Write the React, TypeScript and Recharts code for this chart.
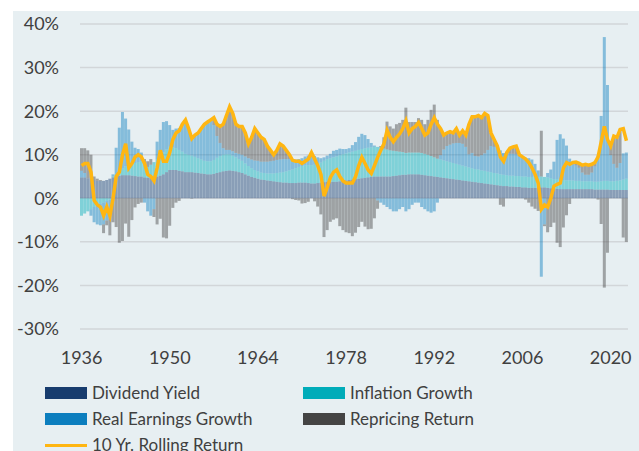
import React from 'react';
import { ComposedChart, Bar, Line, XAxis, YAxis, CartesianGrid } from 'recharts';

const years = [
  1936, 1937, 1938, 1939, 1940, 1941, 1942, 1943, 1944, 1945,
  1946, 1947, 1948, 1949, 1950, 1951, 1952, 1953, 1954, 1955,
  1956, 1957, 1958, 1959, 1960, 1961, 1962, 1963, 1964, 1965,
  1966, 1967, 1968, 1969, 1970, 1971, 1972, 1973, 1974, 1975,
  1976, 1977, 1978, 1979, 1980, 1981, 1982, 1983, 1984, 1985,
  1986, 1987, 1988, 1989, 1990, 1991, 1992, 1993, 1994, 1995,
  1996, 1997, 1998, 1999, 2000, 2001, 2002, 2003, 2004, 2005,
  2006, 2007, 2008, 2009, 2010, 2011, 2012, 2013, 2014, 2015,
  2016, 2017, 2018, 2019, 2020, 2021, 2022,
];
const halves = ['H1', 'H2'];
const tickYears = ['1936', '1950', '1964', '1978', '1992', '2006', '2020'];
const yTicks = [-30, -20, -10, 0, 10, 20, 30, 40];

const dividendYield = [
  4.8, 4.8, 4.6, 4.5, 4.2, 4, 4, 4, 4.2, 4.5,
  4.8, 5, 5.2, 5.3, 5.3, 5.3, 5.2, 5.1, 5, 5,
  4.8, 4.7, 4.7, 4.8, 5, 5.2, 5.5, 6, 6.5, 6.5,
  6.5, 6.3, 6.2, 6, 6, 6, 5.9, 5.8, 5.7, 5.6,
  5.5, 5.5, 5.6, 5.8, 6, 6.2, 6.3, 6.4, 6.3, 6.2,
  6, 5.8, 5.5, 5.2, 4.9, 4.7, 4.5, 4.3, 4.2, 4.1,
  4, 3.9, 3.8, 3.7, 3.6, 3.6, 3.5, 3.5, 3.5, 3.6,
  3.6, 3.6, 3.5, 3.4, 3.4, 3.5, 3.6, 3.7, 3.8, 3.8,
  3.8, 3.8, 3.9, 4, 4.1, 4.2, 4.3, 4.4, 4.5, 4.6,
  4.7, 4.8, 4.9, 5, 5, 5, 5, 5, 5, 5.1,
  5.2, 5.3, 5.4, 5.4, 5.5, 5.5, 5.5, 5.5, 5.4, 5.3,
  5.2, 5.1, 5, 4.9, 4.8, 4.7, 4.6, 4.5, 4.4, 4.3,
  4.2, 4.1, 4, 3.9, 3.8, 3.7, 3.6, 3.5, 3.4, 3.3,
  3.2, 3.1, 3, 2.9, 2.8, 2.8, 2.7, 2.7, 2.6, 2.6,
  2.5, 2.5, 2.4, 2.4, 2.4, 2.4, 2.5, 2.5, 2.4, 2.3,
  2.2, 2.2, 2.1, 2.1, 2.1, 2.1, 2.1, 2.1, 2.1, 2.1,
  2.1, 2.1, 2.1, 2, 2, 2, 2, 2, 1.9, 1.9,
  1.9, 1.9, 1.9, 1.9,
];

const inflationGrowth = [
  -4, -3.5, -3, -2.5, -2, -1.5, -1.2, -1, -0.6, -0.3,
  0.2, 0.6, 1, 1.5, 2, 2.5, 2.8, 3, 3.3, 3.5,
  3, 2.5, 3, 3.5, 4, 4.5, 5, 5.2, 5.3, 5.2,
  5, 4.8, 4.5, 4.2, 4, 3.8, 3.6, 3.4, 3.2, 3,
  3, 3, 3.2, 3.5, 3.7, 3.8, 3.8, 3.7, 3.5, 3.2,
  3, 2.8, 2.5, 2.2, 2, 1.8, 1.7, 1.6, 1.6, 1.6,
  1.7, 1.8, 2, 2.2, 2.4, 2.6, 2.9, 3.1, 3.4, 3.6,
  3.8, 4, 4.1, 4.2, 4.3, 4.4, 4.6, 4.9, 5.2, 5.4,
  5.6, 5.8, 6, 6.1, 6.2, 6.3, 6.4, 6.5, 6.6, 6.7,
  6.8, 6.8, 6.8, 6.8, 6.8, 6.6, 6.4, 6.2, 6, 5.8,
  5.6, 5.4, 5.2, 5, 5, 5, 5, 5, 5, 4.9,
  4.8, 4.6, 4.4, 4.2, 4.1, 4, 3.9, 3.8, 3.7, 3.6,
  3.5, 3.4, 3.3, 3.2, 3.1, 3, 3, 2.9, 2.9, 2.8,
  2.8, 2.7, 2.7, 2.6, 2.6, 2.5, 2.5, 2.5, 2.5, 2.5,
  2.5, 2.5, 2.5, 2.5, 2.5, 2.5, 2.5, 2.4, 2.4, 2.3,
  2.2, 2.2, 2.1, 2.1, 2, 2, 2, 1.9, 1.9, 1.8,
  1.8, 1.8, 1.8, 1.8, 1.8, 1.9, 2, 2, 2, 2,
  2.1, 2.2, 2.4, 2.6,
];

const realEarningsGrowth = [
  1.5, 1, 0, -1.5, -3.5, -4.5, -5, -5, -4.5, -3.5,
  0.5, 6, 10, 13, 11, 8, 5, 3.5, 3, 2,
  -1, -3, -4, -2.5, 4, 6, 7, 6.5, 5, 4,
  4.5, 5, 6, 7, 6, 4, 5, 5.8, 7.1, 8.4,
  9, 9.5, 8, 5, 3, 1.5, 1, 1, 1, 1,
  1.2, 1.4, 1.6, 1.8, 2, 2.2, 2.4, 2.5, 2.6, 2.7,
  2.8, 2.9, 3, 3, 3, 2.8, 2.6, 2.3, 2, 1.8,
  1.8, 2, 2.2, 2.4, 2, 1.5, 1, 0.8, 0.8, 1,
  1.5, 1.5, 1.5, 1.2, 1, 1, 1.5, 2, 3, 3.5,
  3, 2, 1, 0.3, -0.5, -1, -1.5, -2, -2.5, -3,
  -3, -2.5, -2, -3, -2.5, -1.5, -1, -1, -2, -2.5,
  -3, -3.3, -3, -1, 1, 2.5, 3.5, 4, 4.5, 4.8,
  5, 5, 4.5, 3, 3.5, 3, 3, 3.5, 4, 5,
  6, 6, 6, 5.5, 5, 5, 5, 5, 5, 4.5,
  4.5, 4.3, 4.3, 4, 3, 1.5, -18, -6, 1, 2,
  4, 9, 10.5, 9.5, 8, 5, 3.8, 3.5, 3, 2,
  1.5, 1.5, 2, 3.5, 6, 15, 33, 22, 6, 4,
  3, 4, 6, 6,
];

const repricingReturn = [
  5.2, 5.7, 6.4, 5.5, 0.8, 0.5, 0.2, -2, -1.1, -4.7,
  -5.5, -6.6, -10.2, -9.8, -5.8, -8.8, -5, -2.1, -1.3, -1,
  1.2, 1.3, 1.3, -1.8, -6, -4.7, -9, -9.2, -6.3, -2.2,
  -1, -0.6, 0.3, 0.8, 0, -0.1, 0, 0, 0, 0,
  0, 0, 1.7, 2.7, 3.8, 5.5, 7.9, 9.9, 8.7, 6.6,
  6.3, 6.5, 5.4, 3.3, 5.1, 7.3, 6.4, 5.6, 5.1, 3.6,
  2.5, 1.4, 2.2, 3.6, 3, 2, 1, -0.2, -0.4, -0.5,
  -1.2, -1.1, -0.8, 0.5, -0.7, -1.9, -3.7, -8.9, -7.3, -5.4,
  -4.9, -4.6, -6.4, -7.3, -7.8, -8, -8.7, -7.9, -6.6, -5.4,
  -6.5, -7.1, -7, -4.6, -1.9, 0.4, 2.6, 6.4, 5.5, 5.1,
  6.2, 6.6, 7.4, 10.4, 7, 7, 7, 7.9, 7.6, 6.8,
  8, 10.6, 12.1, 8.9, 6.1, 3.3, 3, 3, 2.4, 3.3,
  1.8, 3, 2.7, 6.9, 8.3, 9, 9.4, 8.6, 9.2, 7.9,
  3, 1.7, 0.3, -1.5, -1.9, 0.2, 1.3, 1.6, 1.9, 0.4,
  0, -0.3, -1, -1.9, -2.4, -2.9, 10.5, -0.4, -7.8, -6.6,
  -5.6, -10.2, -11.2, -6.7, -3.9, -1.3, 0.3, 0.8, 1, 1.7,
  2.4, 2.2, 1.9, 0.9, -0.3, -5.9, -20.5, -12.5, 2.1, 6.4,
  7, 7.7, -9, -10,
];

const rollingReturn = [
  7.5, 8, 8, 6, -0.5, -1.5, -2, -4, -2, -4,
  0, 5, 6, 10, 12.5, 7, 8, 9.5, 10, 9.5,
  8, 5.5, 5, 4, 7, 11, 8.5, 8.5, 10.5, 13.5,
  15, 15.5, 17, 18, 16, 13.7, 14.5, 15, 16, 17,
  17.5, 18, 18.5, 17, 16.5, 17, 19, 21, 19.5, 17,
  16.5, 16.5, 15, 12.5, 14, 16, 15, 14, 13.5, 12,
  11, 10, 11, 12.5, 12, 11, 10, 8.7, 8.5, 8.5,
  8, 8.5, 9, 10.5, 9, 7.5, 5.5, 0.5, 2.5, 4.8,
  6, 6.5, 5, 4, 3.5, 3.5, 3.5, 5, 7.5, 9.4,
  8, 6.5, 5.7, 7.5, 9.4, 11, 12.5, 15.6, 14, 13,
  14, 14.8, 16, 17.8, 15, 16, 16.5, 17.4, 16, 14.5,
  15, 17, 18.5, 17, 16, 14.5, 15, 15.3, 15, 16,
  14.5, 15.5, 14.5, 17, 18.7, 18.7, 19, 18.5, 19.5, 19,
  15, 13.5, 12, 9.5, 8.5, 10.5, 11.5, 11.8, 12, 10,
  9.5, 9, 8.2, 7, 5.5, 3.5, -2.5, -1.5, -2, 0,
  2.8, 3.2, 3.5, 7, 8.2, 7.8, 8.2, 8.3, 8, 7.6,
  7.8, 7.6, 7.8, 8.2, 9.5, 13, 16.5, 13.5, 12, 14.3,
  14, 15.8, 16, 13.2,
];

const data = years.flatMap((y, yi) =>
  halves.map((h, hi) => {
    const i = yi * 2 + hi;
    return {
      period: `${y}${h}`,
      div: dividendYield[i],
      infl: inflationGrowth[i],
      earn: realEarningsGrowth[i],
      rep: repricingReturn[i],
      roll: rollingReturn[i],
    };
  })
);

const FONT = 'Lato, "Open Sans", sans-serif';
const TEXT = '#404040';

const legendItems = [
  { label: 'Dividend Yield', color: '#173C6E', left: 45, top: 383, kind: 'box' },
  { label: 'Inflation Growth', color: '#00ACB9', left: 303, top: 383, kind: 'box' },
  { label: 'Real Earnings Growth', color: '#0C7EBE', left: 45, top: 409, kind: 'box' },
  { label: 'Repricing Return', color: '#444444', left: 303, top: 409, kind: 'box' },
  { label: '10 Yr. Rolling Return', color: '#FFB612', left: 45, top: 435, kind: 'line' },
];

export default function App() {
  return (
    <div style={{ position: 'absolute', left: 0, top: 0, width: 639, height: 451, overflow: 'hidden', background: '#ffffff', fontFamily: FONT }}>
      <div style={{ position: 'absolute', left: 13, top: 11, width: 626, height: 440, background: '#E7EFF2' }} />
      <div style={{ position: 'absolute', left: 0, top: 0 }}>
        <ComposedChart
          width={639}
          height={451}
          data={data}
          stackOffset="sign"
          barCategoryGap={0}
          barGap={0}
          margin={{ top: 24, right: 11, bottom: 92, left: 0 }}
        >
          <CartesianGrid vertical={false} stroke="#D2D6D9" strokeWidth={1.5} />
          <XAxis
            dataKey="period"
            interval={27}
            axisLine={false}
            tickLine={false}
            tickSize={0}
            tickMargin={22}
            height={30}
            tick={{ fill: TEXT, fontSize: 18, fontFamily: FONT }}
            tickFormatter={(v: string) => (tickYears.includes(v.slice(0, 4)) && v.endsWith('H1') ? v.slice(0, 4) : '')}
          />
          <YAxis
            domain={[-30, 40]}
            ticks={yTicks}
            width={80}
            axisLine={false}
            tickLine={false}
            tickSize={0}
            tickMargin={21}
            tick={{ fill: TEXT, fontSize: 18, fontFamily: FONT }}
            tickFormatter={(v: number) => `${v}%`}
          />
          <Bar dataKey="div" stackId="s" fill="#173C6E" fillOpacity={0.45} isAnimationActive={false} />
          <Bar dataKey="infl" stackId="s" fill="#00ACB9" fillOpacity={0.45} isAnimationActive={false} />
          <Bar dataKey="earn" stackId="s" fill="#0C7EBE" fillOpacity={0.45} isAnimationActive={false} />
          <Bar dataKey="rep" stackId="s" fill="#444444" fillOpacity={0.45} isAnimationActive={false} />
          <Line dataKey="roll" type="linear" stroke="#FFB612" strokeWidth={3.5} dot={false} activeDot={false} isAnimationActive={false} />
        </ComposedChart>
      </div>
      {legendItems.map((it) => (
        <div
          key={it.label}
          style={{ position: 'absolute', left: it.left, top: it.top, height: 20, display: 'flex', alignItems: 'center', whiteSpace: 'nowrap' }}
        >
          <div
            style={{
              width: 42,
              height: it.kind === 'box' ? 12 : 3,
              background: it.color,
              marginRight: 5,
            }}
          />
          <span style={{ fontSize: 17, color: TEXT, fontFamily: FONT, lineHeight: '20px' }}>{it.label}</span>
        </div>
      ))}
    </div>
  );
}
